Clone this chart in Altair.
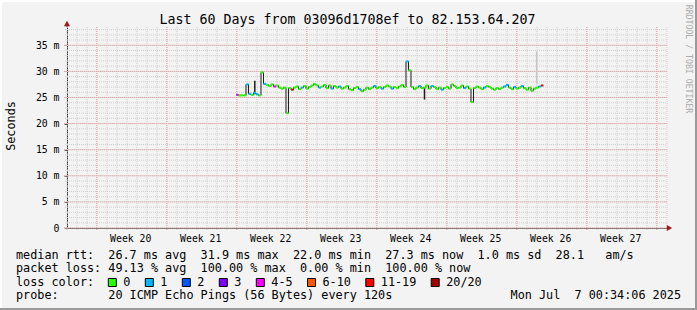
import re
import altair as alt
import pandas as pd

# ---------------- data ----------------
period_start = "2025-05-08 00:34:06"
span_days = 60
first_sample = "2025-05-24 22:10:00"
sample_step_hours = 6

median_rtt_ms = [
    25.5, 25.4, 25.4, 25.4, 27.5, 25.7, 25.5, 25.9, 25.6, 25.4,
    29.8, 27.6, 27.4, 27.2, 27.5, 27.1, 27.3, 26.9, 26.7, 26.9,
    22.0, 26.8, 26.5, 26.9, 27.1, 26.6, 26.9, 27.2, 26.7, 27.0,
    27.3, 27.6, 27.3, 26.9, 27.1, 27.4, 26.8, 27.3, 26.7, 27.2,
    26.9, 27.1, 26.7, 26.9, 27.2, 26.6, 26.4, 26.8, 27.0, 26.6,
    26.2, 26.5, 26.9, 26.6, 26.9, 27.2, 26.8, 27.0, 26.7, 27.0,
    27.3, 27.1, 26.7, 27.0, 26.8, 27.1, 27.4, 27.0, 31.9, 30.2,
    27.0, 26.6, 26.9, 27.2, 26.8, 26.9, 27.3, 26.7, 27.2, 27.0,
    26.6, 26.9, 26.5, 26.8, 27.0, 26.7, 27.5, 27.2, 26.8, 26.9,
    27.3, 26.8, 27.1, 26.7, 24.1, 26.8, 27.1, 26.9, 26.6, 26.9,
    27.2, 27.0, 26.7, 26.5, 26.8, 26.6, 26.9, 27.1, 27.4, 26.9,
    26.6, 27.0, 26.7, 26.9, 27.2, 26.8, 26.5, 26.9, 26.3, 26.7,
    26.9, 27.1, 27.3,
]
loss_class = [
    "4-5", "0", "0", "0", "1", "1", "0", "1", "1", "0",
    "0", "1", "0", "0", "0", "4-5", "0", "0", "0", "0",
    "0", "0", "11-19", "0", "0", "0", "1", "0", "0", "0",
    "0", "0", "0", "1", "0", "0", "0", "0", "1", "0",
    "0", "1", "0", "0", "0", "0", "0", "0", "0", "1",
    "0", "0", "0", "0", "0", "1", "0", "0", "1", "0",
    "0", "0", "1", "0", "0", "0", "0", "0", "1", "0",
    "0", "0", "0", "1", "0", "0", "0", "0", "1", "0",
    "0", "0", "1", "0", "0", "0", "0", "0", "0", "0",
    "0", "1", "0", "0", "0", "0", "0", "0", "0", "1",
    "0", "0", "0", "0", "0", "0", "0", "1", "1", "0",
    "0", "1", "0", "0", "1", "0", "0", "0", "0", "0",
    "0", "1", "11-19",
]

smoke_times = ["2025-05-26 19:17", "2025-06-12 18:34", "2025-06-23 23:51"]
smoke_low_ms = [25.6, 24.6, 27.5]
smoke_high_ms = [28.2, 27.0, 33.8]
smoke_density = ["dense", "dense", "sparse"]

week_start_dates = ["2025-05-11", "2025-05-18", "2025-05-25", "2025-06-01", "2025-06-08",
                    "2025-06-15", "2025-06-22", "2025-06-29", "2025-07-06"]
week_labels = ["Week 20", "Week 21", "Week 22", "Week 23", "Week 24", "Week 25", "Week 26", "Week 27"]

y_ticks_ms = [0, 5, 10, 15, 20, 25, 30, 35]
y_max_ms = 38.5

loss_labels = ["0", "1", "2", "3", "4-5", "6-10", "11-19", "20/20"]
loss_colors = ["#26ff00", "#00b8ff", "#0059ff", "#7e00ff", "#ff00ff", "#ff5500", "#ff0000", "#a10000"]

title_text = "Last 60 Days from 03096d1708ef to 82.153.64.207"
y_title = "Seconds"
legend_rows = [
    "median rtt:  26.7 ms avg  31.9 ms max  22.0 ms min  27.3 ms now  1.0 ms sd  28.1   am/s",
    "packet loss: 49.13 % avg  100.00 % max  0.00 % min  100.00 % now",
    "loss color:",
    "probe:       20 ICMP Echo Pings (56 Bytes) every 120s",
]
probe_time = "Mon Jul  7 00:34:06 2025"
credit = "RRDTOOL / TOBI OETIKER"

# ---------------- layout ----------------
W, H = 697, 310
PL, PT = 67, 27
PW, PH = 600, 201
PR, PB = W - PL - PW, H - PT - PH
FONT = "DejaVu Sans Mono"
CH = 7.1          # monospace advance at 11.8px
BG = "#f3f3f3"
MAJOR = "#e9a3a3"
MINOR = "#cfcfcf"

start = pd.Timestamp(period_start)


def to_day(ts):
    return (pd.Timestamp(ts) - start) / pd.Timedelta(days=1)


times = pd.date_range(first_sample, periods=len(median_rtt_ms), freq=f"{sample_step_hours}h")
step_days = sample_step_hours / 24
df = pd.DataFrame({
    "day": [to_day(t) for t in times],
    "rtt": median_rtt_ms,
    "loss": loss_class,
})
df["day2"] = df["day"] + step_days

smoke = pd.DataFrame({
    "day": [to_day(t) for t in smoke_times],
    "lo": smoke_low_ms, "hi": smoke_high_ms, "density": smoke_density,
})

xs = alt.Scale(domain=[0, span_days], nice=False, zero=False)
ys = alt.Scale(domain=[0, y_max_ms], nice=False, zero=False)
px_scale_x = alt.Scale(domain=[0, PW], range=[0, PW], nice=False, zero=False)
px_scale_y = alt.Scale(domain=[0, PH], range=[0, PH], nice=False, zero=False)

minor_x = pd.DataFrame({"day": list(range(0, span_days + 1))})
minor_y = pd.DataFrame({"ms": list(range(0, int(y_max_ms) + 1))})
major_x = pd.DataFrame({"day": [to_day(d) for d in week_start_dates]})
major_y = pd.DataFrame({"ms": y_ticks_ms})

layers = []
layers.append(alt.Chart(minor_x).mark_rule(color=MINOR, strokeDash=[1, 1], strokeWidth=1).encode(
    x=alt.X("day:Q", scale=xs, axis=None), y=alt.value(0), y2=alt.value(PH + 2)))
layers.append(alt.Chart(minor_y).mark_rule(color=MINOR, strokeDash=[1, 1], strokeWidth=1).encode(
    y=alt.Y("ms:Q", scale=ys, axis=None), x=alt.value(-2), x2=alt.value(PW)))
layers.append(alt.Chart(major_x).mark_rule(color=MAJOR, strokeDash=[1, 1], strokeWidth=1).encode(
    x=alt.X("day:Q", scale=xs, axis=None), y=alt.value(0), y2=alt.value(PH + 3)))
layers.append(alt.Chart(major_y).mark_rule(color=MAJOR, strokeDash=[1, 1], strokeWidth=1).encode(
    y=alt.Y("ms:Q", scale=ys, axis=None), x=alt.value(-3), x2=alt.value(PW)))

# smoke
layers.append(alt.Chart(smoke).mark_rule(strokeWidth=1.5).encode(
    x=alt.X("day:Q", scale=xs, axis=None),
    y=alt.Y("lo:Q", scale=ys, axis=None), y2="hi:Q",
    color=alt.Color("density:N", scale=alt.Scale(domain=["dense", "sparse"], range=["#1e1e1e", "#c6c6c6"]), legend=None)))

x_axis = alt.Axis(domain=True, domainColor="#3a3a3a", domainWidth=1, ticks=False, labels=False,
                  grid=False, title=None)
y_axis = alt.Axis(values=y_ticks_ms, labelExpr="datum.value == 0 ? '0' : datum.value + ' m'",
                  domain=True, domainColor="#3a3a3a", domainWidth=1, ticks=True, tickSize=3,
                  tickColor="#555555", grid=False, title=None, labelFont=FONT, labelFontSize=9.8,
                  labelColor="#000000", labelPadding=5)

layers.append(alt.Chart(df).mark_line(interpolate="step-after", color="#1c1c1c", strokeWidth=1).encode(
    x=alt.X("day:Q", scale=xs, axis=x_axis), y=alt.Y("rtt:Q", scale=ys, axis=y_axis)))
layers.append(alt.Chart(df).mark_rule(strokeWidth=2).encode(
    x=alt.X("day:Q", scale=xs, axis=None), x2="day2:Q",
    y=alt.Y("rtt:Q", scale=ys, axis=None),
    color=alt.Color("loss:N", scale=alt.Scale(domain=loss_labels, range=loss_colors), legend=None)))

# axis arrows
layers.append(alt.Chart(pd.DataFrame({"a": [0]})).mark_rule(color="#3a3a3a").encode(
    x=alt.value(0), y=alt.value(-3), y2=alt.value(0)))
layers.append(alt.Chart(pd.DataFrame({"a": [0]})).mark_point(
    filled=True, size=38, color="#a01818", opacity=1, shape="triangle-up").encode(
    x=alt.value(0), y=alt.value(-3.5)))
layers.append(alt.Chart(pd.DataFrame({"a": [0]})).mark_point(
    filled=True, size=38, color="#a01818", opacity=1, shape="triangle-right").encode(
    x=alt.value(PW + 2.5), y=alt.value(PH)))

# week labels
weeks = pd.DataFrame({"day": [to_day(d) + 3.5 for d in week_start_dates[:len(week_labels)]],
                      "text": week_labels})
layers.append(alt.Chart(weeks).mark_text(font=FONT, fontSize=9.8, align="center", baseline="alphabetic",
                                         color="#000000", dx=-1).encode(
    x=alt.X("day:Q", scale=xs, axis=None), y=alt.value(PH + 13.7), text="text:N"))

# title, y title, credit
one = pd.DataFrame({"a": [0]})
layers.append(alt.Chart(one).mark_text(font=FONT, fontSize=13.3, align="center", baseline="alphabetic",
                                       color="#000000").encode(
    x=alt.value(347.5 - PL), y=alt.value(23.5 - PT), text=alt.value(title_text)))
layers.append(alt.Chart(one).mark_text(font=FONT, fontSize=11.8, align="center", baseline="middle",
                                       angle=270, color="#000000").encode(
    x=alt.value(11 - PL), y=alt.value(126 - PT), text=alt.value(y_title)))
layers.append(alt.Chart(one).mark_text(font=FONT, fontSize=8.2, align="center", baseline="middle",
                                       angle=90, color="#ababab").encode(
    x=alt.value(688 - PL), y=alt.value(59 - PT), text=alt.value(credit)))

# legend text tokens (pixel coordinates relative to the plot origin)
baselines = [258.5, 272.1, 285.7, 299.3]
tokens = []
for r, row in enumerate(legend_rows):
    for m in re.finditer(r"\S+", row):
        tokens.append({"px": 16 - PL + m.start() * CH, "py": baselines[r] - PT, "text": m.group()})
ts_x = 681 - len(probe_time) * CH
for m in re.finditer(r"\S+", probe_time):
    tokens.append({"px": ts_x - PL + m.start() * CH, "py": baselines[3] - PT, "text": m.group()})

boxes = []
bx = 108.3
for lab, col in zip(loss_labels, loss_colors):
    boxes.append({"px": bx - PL, "px2": bx + 8 - PL, "py": 278.5 - PT, "py2": 286.5 - PT, "loss": lab})
    tokens.append({"px": bx + 15 - PL, "py": baselines[2] - PT, "text": lab})
    bx += 29.9 + CH * len(lab)

layers.append(alt.Chart(pd.DataFrame(tokens)).mark_text(font=FONT, fontSize=11.8, align="left",
                                                         baseline="alphabetic", color="#000000").encode(
    x=alt.X("px:Q", scale=px_scale_x, axis=None), y=alt.Y("py:Q", scale=px_scale_y, axis=None),
    text="text:N"))
layers.append(alt.Chart(pd.DataFrame(boxes)).mark_rect(stroke="#000000", strokeWidth=1).encode(
    x=alt.X("px:Q", scale=px_scale_x, axis=None), x2="px2:Q",
    y=alt.Y("py:Q", scale=px_scale_y, axis=None), y2="py2:Q",
    fill=alt.Fill("loss:N", scale=alt.Scale(domain=loss_labels, range=loss_colors), legend=None)))

# frame (image border)
layers.append(alt.Chart(one).mark_rule(color="#ffffff", strokeWidth=2).encode(
    x=alt.value(-PL), x2=alt.value(W - PL), y=alt.value(-PT + 1)))
layers.append(alt.Chart(one).mark_rule(color="#ffffff", strokeWidth=2).encode(
    x=alt.value(-PL + 1), y=alt.value(-PT), y2=alt.value(H - PT)))
layers.append(alt.Chart(one).mark_rule(color="#9a9a9a", strokeWidth=2).encode(
    x=alt.value(-PL), x2=alt.value(W - PL), y=alt.value(H - PT - 1)))
layers.append(alt.Chart(one).mark_rule(color="#9a9a9a", strokeWidth=2).encode(
    x=alt.value(W - PL - 1), y=alt.value(-PT), y2=alt.value(H - PT)))

chart = alt.layer(*layers).resolve_scale(
    x="independent", y="independent", color="independent", fill="independent"
).properties(
    width=PW, height=PH,
    padding={"left": PL, "top": PT, "right": PR, "bottom": PB},
    autosize=alt.AutoSizeParams(type="none"),
    background=BG,
).configure_view(stroke=None)

chart.save("out.html", embed_options={"renderer": "svg", "actions": False})
